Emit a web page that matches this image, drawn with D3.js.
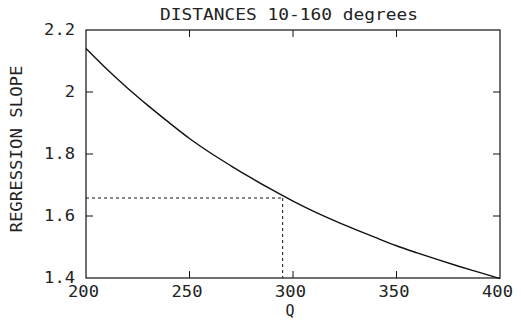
<!DOCTYPE html>
<html>
<head>
<meta charset="utf-8">
<script src="https://cdn.jsdelivr.net/npm/d3@7"></script>
<style>
html,body{margin:0;padding:0;background:#fff;}
text{font-family:"DejaVu Sans Mono","Liberation Mono",monospace;fill:#222;}
</style>
</head>
<body>
<svg id="chart" width="521" height="326"></svg>
<script>
const qValues = [200,210,220,230,240,250,260,270,280,290,300,310,320,330,340,350,360,370,380,390,400];
const slopeValues = [2.140,2.074,2.013,1.956,1.902,1.850,1.804,1.762,1.722,1.684,1.648,1.615,1.585,1.557,1.530,1.504,1.481,1.459,1.438,1.418,1.398];
const xTicks = [200,250,300,350,400];
const yTicks = [1.4,1.6,1.8,2.0,2.2];
const yTickLabels = ["1.4","1.6","1.8","2","2.2"];
const marker = {q:295, slope:1.658};
const title = "DISTANCES 10-160 degrees";
const xTitle = "Q";
const yTitle = "REGRESSION SLOPE";

const svg = d3.select("#chart");
const L=86, R=500, T=30, B=278;
const x = d3.scaleLinear().domain([200,400]).range([L,R]);
const y = d3.scaleLinear().domain([1.4,2.2]).range([B,T]);
const ink = "#111";
const CW = 10.3;

// frame
svg.append("rect").attr("x",L).attr("y",T).attr("width",R-L).attr("height",B-T)
  .attr("fill","none").attr("stroke",ink).attr("stroke-width",1.2);

const tl = 7;
const inner = xTicks.filter(d=>d>200&&d<400);
svg.selectAll(".tb").data(inner).join("line")
  .attr("x1",d=>x(d)).attr("x2",d=>x(d)).attr("y1",B).attr("y2",B-tl).attr("stroke",ink);
svg.selectAll(".tt").data(inner).join("line")
  .attr("x1",d=>x(d)).attr("x2",d=>x(d)).attr("y1",T).attr("y2",T+tl).attr("stroke",ink);
const innerY = yTicks.filter(d=>d>1.4&&d<2.2);
svg.selectAll(".tl").data(innerY).join("line")
  .attr("x1",L).attr("x2",L+tl).attr("y1",d=>y(d)).attr("y2",d=>y(d)).attr("stroke",ink);
svg.selectAll(".tr").data(innerY).join("line")
  .attr("x1",R).attr("x2",R-tl).attr("y1",d=>y(d)).attr("y2",d=>y(d)).attr("stroke",ink);

// tick labels
svg.selectAll(".xl").data(xTicks).join("text")
  .attr("x",d=>x(d)-2.5).attr("y",B+19).attr("text-anchor","middle")
  .attr("font-size",15).attr("textLength",d=>String(d).length*CW).attr("lengthAdjust","spacingAndGlyphs")
  .text(d=>d);
svg.selectAll(".yl").data(yTicks).join("text")
  .attr("x",L-11).attr("y",(d,i)=>y(d)+5).attr("text-anchor","end")
  .attr("font-size",15).attr("textLength",(d,i)=>yTickLabels[i].length*CW).attr("lengthAdjust","spacingAndGlyphs")
  .text((d,i)=>yTickLabels[i]);

// titles
svg.append("text").attr("x",289).attr("y",20).attr("text-anchor","middle")
  .attr("font-size",15).attr("textLength",258).attr("lengthAdjust","spacingAndGlyphs").text(title);
svg.append("text").attr("x",(L+R)/2-3).attr("y",316).attr("text-anchor","middle")
  .attr("font-size",15).text(xTitle);
svg.append("text").attr("transform","translate(22,149) rotate(-90)").attr("text-anchor","middle")
  .attr("font-size",15).attr("textLength",167).attr("lengthAdjust","spacingAndGlyphs").text(yTitle);

// dashed marker lines
svg.append("line").attr("x1",L).attr("x2",x(marker.q)).attr("y1",y(marker.slope)).attr("y2",y(marker.slope))
  .attr("stroke",ink).attr("stroke-dasharray","3,3").attr("stroke-width",1);
svg.append("line").attr("x1",x(marker.q)).attr("x2",x(marker.q)).attr("y1",y(marker.slope)).attr("y2",B)
  .attr("stroke",ink).attr("stroke-dasharray","3,3").attr("stroke-width",1);

// curve
const line = d3.line().x((d,i)=>x(qValues[i])).y(d=>y(d)).curve(d3.curveMonotoneX);
svg.append("path").attr("d",line(slopeValues)).attr("fill","none").attr("stroke",ink).attr("stroke-width",1.4);
</script>
</body>
</html>
